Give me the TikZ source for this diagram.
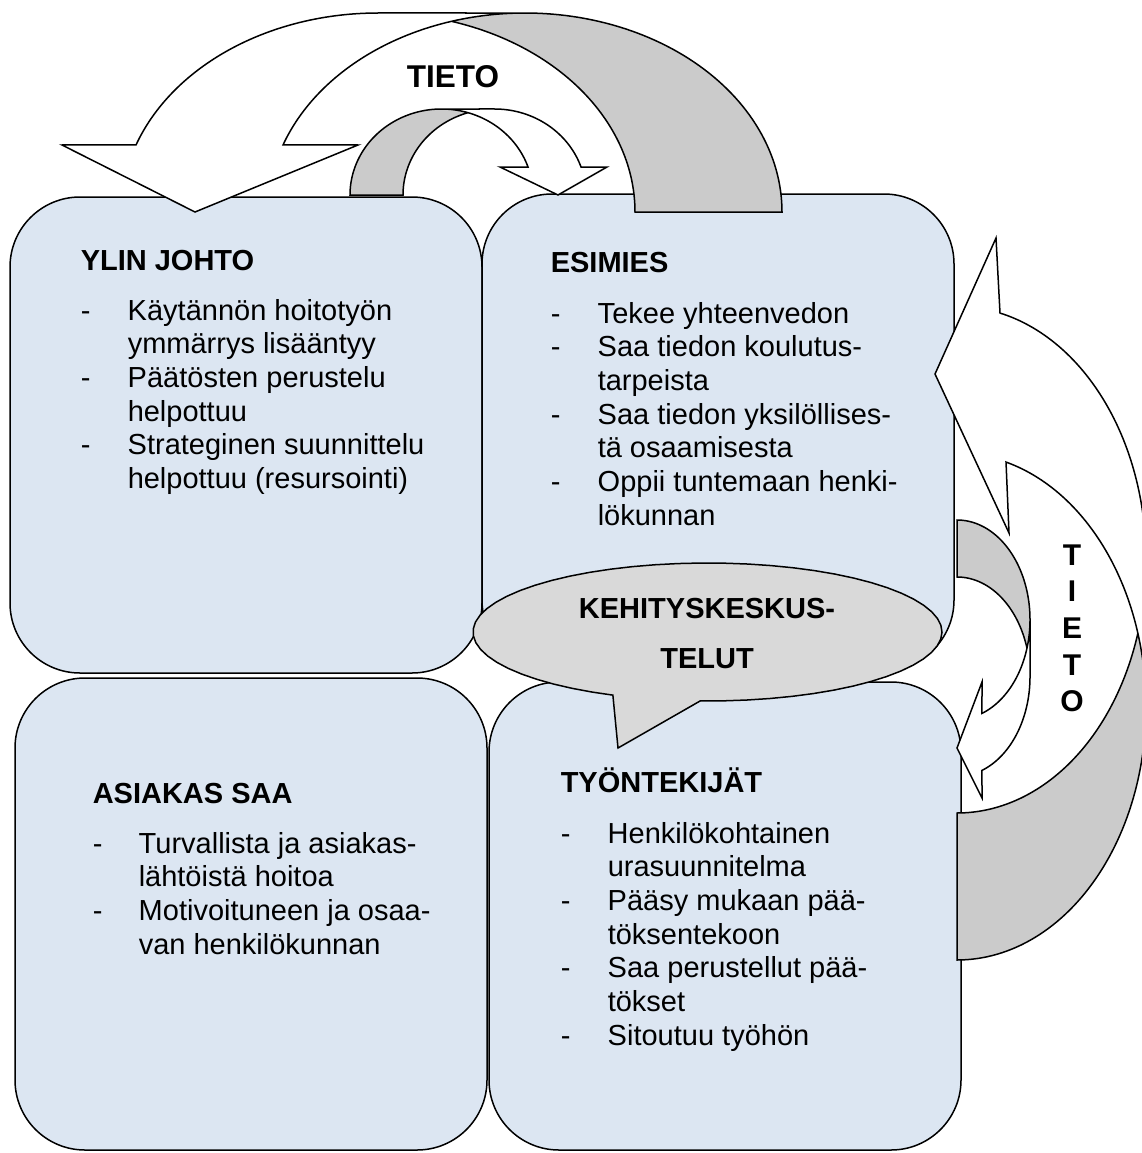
\documentclass[tikz,border=0pt]{standalone}
\usepackage{fontspec}
\setmainfont{Liberation Sans}
\definecolor{boxblue}{HTML}{DCE6F2}
\definecolor{backgray}{HTML}{CBCBCB}
\definecolor{callgray}{HTML}{D9D9D9}
\newcommand\earc[6]{plot[domain=#5:#6,samples=60,variable=\t]({#1+#3*cos(\t)},{#2+#4*sin(\t)})}
\newcommand\eto[6]{-- plot[domain=#5:#6,samples=60,variable=\t]({#1+#3*cos(\t)},{#2+#4*sin(\t)})}
\begin{document}
\begin{tikzpicture}[x=1pt,y=-1pt,line width=1.5pt,line join=miter]
\tikzset{
  boxstyle/.style={draw, fill=boxblue, rounded corners=70pt, inner sep=0pt},
  head/.style={anchor=base west, inner sep=0pt, font=\fontsize{29}{33.7}\selectfont\bfseries},
  listtext/.style={anchor=base west, inner sep=0pt, font=\fontsize{29}{33.7}\selectfont},
  bigtext/.style={inner sep=0pt, font=\fontsize{30}{36.7}\selectfont\bfseries},
}
\useasboundingbox (0,0) rectangle (1142,1153);
\fill[white] (0,0) rectangle (1142,1153);

% boxes
\node[boxstyle, minimum width=472pt, minimum height=476pt] (ylin) at (246,435) {};
\node[boxstyle, minimum width=472pt, minimum height=476pt] (esimies) at (718,432) {};
\node[boxstyle, minimum width=472pt, minimum height=472pt] (asiakas) at (251,914) {};
\node[boxstyle, minimum width=472pt, minimum height=468pt] (tyon) at (725,916) {};

% big top arrow
\fill[white] \earc{378}{212}{257}{199}{-160.3}{-90} \eto{525}{212}{257}{199}{-90}{-160.3} -- (358,145) -- (195,212) -- (62,145) -- cycle;
\fill[backgray] \earc{525}{212}{257}{199}{0}{-106.6} \eto{378}{212}{257}{199}{-73.4}{0} -- cycle;
\draw \earc{378}{212}{257}{199}{-73.4}{0} \eto{525}{212}{257}{199}{0}{-90} \eto{378}{212}{257}{199}{-90}{-160.3} -- (62,145) -- (195,212) -- (358,145) \eto{525}{212}{257}{199}{-160.3}{-90};

% small top arrow
\fill[white] \earc{494.5}{195}{91.5}{86}{-19}{-90} \eto{441.5}{195}{91.5}{86}{-90}{-19} -- (500,167) -- (558,195) -- (607,167) -- cycle;
\fill[backgray] \earc{441.5}{195}{91.5}{86}{180}{286.8} \eto{494.5}{195}{91.5}{86}{253.2}{180} -- cycle;
\draw \earc{494.5}{195}{91.5}{86}{253.2}{180} \eto{441.5}{195}{91.5}{86}{180}{270} \eto{494.5}{195}{91.5}{86}{270}{341} -- (607,167) -- (558,195) -- (500,167) \eto{441.5}{195}{91.5}{86}{341}{270};

% big right arrow
\fill[white] \earc{957}{559.7}{189}{253.3}{-76.85}{0} \eto{957}{706.7}{189}{253.3}{0}{-74.97} -- (1009,533) -- (935,374) -- (996,238) -- cycle;
\fill[backgray] \earc{957}{706.7}{189}{253.3}{90}{-16.87} \eto{957}{559.7}{189}{253.3}{16.87}{90} -- cycle;
\draw \earc{957}{559.7}{189}{253.3}{16.87}{90} \eto{957}{706.7}{189}{253.3}{90}{0} \eto{957}{559.7}{189}{253.3}{0}{-76.85} -- (996,238) -- (935,374) -- (1009,533) \eto{957}{706.7}{189}{253.3}{-74.97}{0};

% small right arrow
\fill[white] \earc{957}{676.7}{73}{99.7}{70}{0} \eto{957}{619.7}{73}{99.7}{0}{70} -- (982,682) -- (957,748) -- (982,798) -- cycle;
\fill[backgray] \earc{957}{619.7}{73}{99.7}{-90}{16.6} \eto{957}{676.7}{73}{99.7}{-16.6}{-90} -- cycle;
\draw \earc{957}{676.7}{73}{99.7}{-16.6}{-90} \eto{957}{619.7}{73}{99.7}{-90}{0} \eto{957}{676.7}{73}{99.7}{0}{70} -- (982,798) -- (957,748) -- (982,682) \eto{957}{619.7}{73}{99.7}{70}{0};

% callout
\filldraw[fill=callgray] \earc{707.5}{632}{234.5}{69}{91.8}{-246.2} -- (618,748) -- cycle;

% texts
\node[bigtext, anchor=base, font=\fontsize{31.5}{36.7}\selectfont\bfseries] (tieto1) at (453,88) {TIETO};
\node[bigtext, anchor=base] (tieto2) at (1072,565) {\begin{tabular}[t]{@{}c@{}}T\\I\\E\\T\\O\end{tabular}};
\node[head, anchor=base, font=\fontsize{29}{50}\selectfont\bfseries] (kehit) at (707,618) {\begin{tabular}[t]{@{}c@{}}KEHITYSKESKUS-\\TELUT\end{tabular}};

\node[head] (h1) at (80,270) {YLIN JOHTO};
\node[listtext] (l1) at (80,320) {\begin{tabular}[t]{@{}p{47pt}@{}l@{}}
- & Käytännön hoitotyön\\ & ymmärrys lisääntyy\\
- & Päätösten perustelu\\ & helpottuu\\
- & Strateginen suunnittelu\\ & helpottuu (resursointi)\end{tabular}};

\node[head] (h2) at (550,272) {ESIMIES};
\node[listtext] (l2) at (550,323) {\begin{tabular}[t]{@{}p{47pt}@{}l@{}}
- & Tekee yhteenvedon\\
- & Saa tiedon koulutus-\\ & tarpeista\\
- & Saa tiedon yksilöllises-\\ & tä osaamisesta\\
- & Oppii tuntemaan henki-\\ & lökunnan\end{tabular}};

\node[head] (h3) at (92,803) {ASIAKAS SAA};
\node[listtext] (l3) at (92,853) {\begin{tabular}[t]{@{}p{46pt}@{}l@{}}
- & Turvallista ja asiakas-\\ & lähtöistä hoitoa\\
- & Motivoituneen ja osaa-\\ & van henkilökunnan\end{tabular}};

\node[head] (h4) at (560,792) {TYÖNTEKIJÄT};
\node[listtext] (l4) at (560,843) {\begin{tabular}[t]{@{}p{47pt}@{}l@{}}
- & Henkilökohtainen\\ & urasuunnitelma\\
- & Pääsy mukaan pää-\\ & töksentekoon\\
- & Saa perustellut pää-\\ & tökset\\
- & Sitoutuu työhön\end{tabular}};
\end{tikzpicture}
\end{document}
